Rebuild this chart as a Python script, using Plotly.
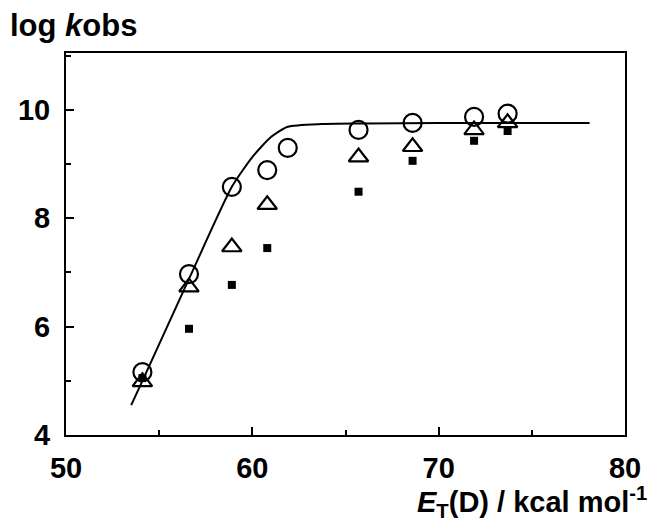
import plotly.graph_objects as go

# Data
et = [54.1, 56.6, 58.9, 60.8, 61.9, 65.7, 68.6, 71.9, 73.7]
circles = [5.16, 6.97, 8.58, 8.89, 9.30, 9.63, 9.76, 9.87, 9.93]
et_tri = [54.1, 56.6, 58.9, 60.8, 65.7, 68.6, 71.9, 73.7]
triangles = [4.98, 6.73, 7.47, 8.25, 9.13, 9.32, 9.63, 9.76]
et_sq = [54.1, 56.6, 58.9, 60.8, 65.7, 68.6, 71.9, 73.7]
squares = [5.05, 5.96, 6.77, 7.45, 8.49, 9.06, 9.43, 9.61]

curve_x = [53.5, 54.1, 56.6, 58.9, 60.0, 61.0, 61.9, 63.7, 66.0, 70.0, 74.0, 78.1]
curve_y = [4.55, 5.0, 6.88, 8.58, 9.13, 9.50, 9.69, 9.74, 9.75, 9.76, 9.76, 9.76]

x_ticks = [50, 60, 70, 80]
y_ticks = [4, 6, 8, 10]

FONT = "Liberation Sans, Arial, sans-serif"

fig = go.Figure()
fig.add_trace(go.Scatter(x=curve_x, y=curve_y, mode="lines",
                         line=dict(color="black", width=2, shape="spline", smoothing=0.6),
                         hoverinfo="skip"))
fig.add_trace(go.Scatter(x=et_sq, y=squares, mode="markers",
                         marker=dict(symbol="square", size=8, color="black")))
fig.add_trace(go.Scatter(x=et_tri, y=triangles, mode="markers",
                         marker=dict(symbol="triangle-up-open", size=17, color="black",
                                     line=dict(width=2.2))))
fig.add_trace(go.Scatter(x=et, y=circles, mode="markers",
                         marker=dict(symbol="circle-open", size=18, color="black",
                                     line=dict(width=2.2))))

axis_common = dict(showline=True, linecolor="black", linewidth=2, mirror=True,
                   showgrid=False, zeroline=False, ticks="inside", ticklen=8,
                   tickwidth=1.5, tickcolor="black",
                   tickfont=dict(family=FONT, size=29, color="black", weight="bold"))

fig.update_layout(
    width=651, height=524,
    margin=dict(l=66, r=26, t=53, b=89, autoexpand=False),
    paper_bgcolor="white", plot_bgcolor="white",
    showlegend=False,
    xaxis=dict(range=[50, 80], tickvals=x_ticks, ticklabelstandoff=6,
               minor=dict(dtick=5, ticks="inside", ticklen=5, tickwidth=1.5, tickcolor="black"),
               **axis_common),
    yaxis=dict(range=[4, 11.05], tickvals=y_ticks, ticklabelstandoff=8,
               minor=dict(dtick=1, ticks="inside", ticklen=5, tickwidth=1.5, tickcolor="black"),
               **axis_common),
    annotations=[
        dict(text="log <i>k</i>obs", xref="paper", yref="paper",
             x=(8 - 66) / 559, y=(435 - 6) / 382, xanchor="left", yanchor="top",
             showarrow=False, font=dict(family=FONT, size=31, color="black", weight="bold")),
        dict(text="<i>E</i><sub>T</sub>(D) / kcal mol<sup>-1</sup>", xref="paper", yref="paper",
             x=(649 - 66) / 559, y=(435 - 524) / 382, xanchor="right", yanchor="bottom",
             showarrow=False, font=dict(family=FONT, size=29, color="black", weight="bold")),
    ],
)

fig.write_html("out.html", config={"displayModeBar": False},
               post_script="document.body.style.margin='0px';")
